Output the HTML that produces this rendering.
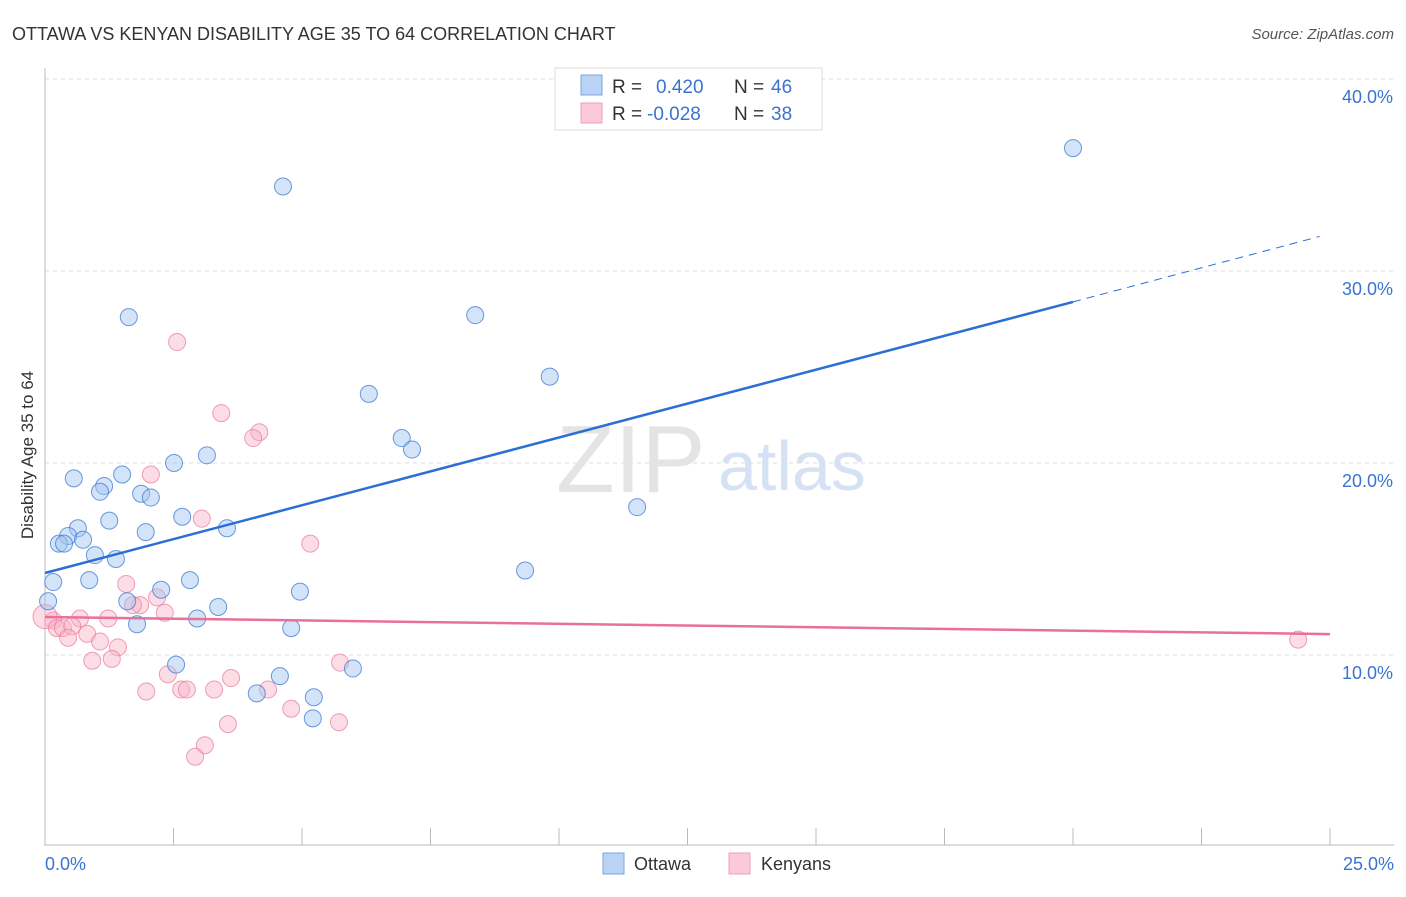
<!DOCTYPE html>
<html><head><meta charset="utf-8"><style>
body{margin:0;background:#fff;font-family:"Liberation Sans",sans-serif;}
svg text{font-family:"Liberation Sans",sans-serif;}
</style></head><body>
<svg id="c" width="1406" height="892" xmlns="http://www.w3.org/2000/svg">
<text x="12" y="40" font-size="18" fill="#333">OTTAWA VS KENYAN DISABILITY AGE 35 TO 64 CORRELATION CHART</text>
<text x="1394" y="39" font-size="15" fill="#555" font-style="italic" text-anchor="end">Source: ZipAtlas.com</text>
<text transform="translate(33,455) rotate(-90)" font-size="17" fill="#333" text-anchor="middle">Disability Age 35 to 64</text>
<g id="grid"></g>
<g id="ticks"></g>
<text x="556" y="492" font-size="96" fill="#e4e4e4" font-family="Liberation Serif">ZIP</text>
<text x="718" y="490" font-size="70" fill="#d6e2f3">atlas</text>
<line x1="45" y1="68" x2="45" y2="846" stroke="#bbb"/>
<line x1="45" y1="845" x2="1394" y2="845" stroke="#bbb"/>
<g id="pts"></g>
<g id="trends"></g>
<text x="45" y="870" font-size="18" fill="#3a73d0">0.0%</text>
<text x="1394" y="870" font-size="18" fill="#3a73d0" text-anchor="end">25.0%</text>
<g>
<rect x="555" y="68" width="267" height="62" fill="#fff" stroke="#ddd"/>
<rect x="581" y="75" width="21" height="20" fill="#b9d3f5" stroke="#7aa6e0"/>
<rect x="581" y="103" width="21" height="20" fill="#fcc9d8" stroke="#eea0b8"/>
<text x="612" y="93" font-size="19" fill="#333">R =</text>
<text x="656" y="93" font-size="19" fill="#3a73d0">0.420</text>
<text x="734" y="93" font-size="19" fill="#333">N =</text>
<text x="771" y="93" font-size="19" fill="#3a73d0">46</text>
<text x="612" y="120" font-size="19" fill="#333">R =</text>
<text x="647" y="120" font-size="19" fill="#3a73d0">-0.028</text>
<text x="734" y="120" font-size="19" fill="#333">N =</text>
<text x="771" y="120" font-size="19" fill="#3a73d0">38</text>
</g>
<g>
<rect x="603" y="853" width="21" height="21" fill="#b9d3f5" stroke="#7aa6e0"/>
<text x="634" y="870" font-size="18" fill="#333">Ottawa</text>
<rect x="729" y="853" width="21" height="21" fill="#fcc9d8" stroke="#eea0b8"/>
<text x="761" y="870" font-size="18" fill="#333">Kenyans</text>
</g>
</svg>
<script>
const yTicks=[10,20,30,40];
const yTickLabels=["10.0%","20.0%","30.0%","40.0%"];
const xTicks=[0,2.5,5,7.5,10,12.5,15,17.5,20,22.5,25];
const ottawaX=[4.63,20.0,1.63,8.37,9.82,6.30,6.94,7.14,3.15,2.51,1.50,0.56,1.15,1.07,1.87,2.06,11.52,1.25,2.67,0.64,1.96,3.54,0.45,0.74,0.27,0.37,0.97,1.38,9.34,0.16,0.86,2.82,2.26,4.96,1.60,0.06,3.37,2.96,1.79,4.79,2.55,5.99,4.57,4.12,5.23,5.21];
const ottawaY=[34.4,36.4,27.6,27.7,24.5,23.6,21.3,20.7,20.4,20.0,19.4,19.2,18.8,18.5,18.4,18.2,17.7,17.0,17.2,16.6,16.4,16.6,16.2,16.0,15.8,15.8,15.2,15.0,14.4,13.8,13.9,13.9,13.4,13.3,12.8,12.8,12.5,11.9,11.6,11.4,9.5,9.3,8.9,8.0,7.8,6.7];
const kenyaX=[2.57,3.43,4.17,4.05,2.06,3.05,5.16,1.58,2.18,1.85,1.71,2.33,1.23,0.68,0.16,0.0,0.23,0.35,0.53,0.82,0.45,1.07,1.42,0.92,1.30,5.74,2.39,3.62,1.97,2.65,2.76,3.29,4.34,4.79,3.56,5.72,3.11,2.92,24.38];
const kenyaY=[26.3,22.6,21.6,21.3,19.4,17.1,15.8,13.7,13.0,12.6,12.6,12.2,11.9,11.9,11.8,12.0,11.4,11.4,11.5,11.1,10.9,10.7,10.4,9.7,9.8,9.6,9.0,8.8,8.1,8.2,8.2,8.2,8.2,7.2,6.4,6.5,5.3,4.7,10.8];
const blueTrend=[14.27,28.39,31.8];
const pinkTrend=[11.98,11.09];
const NS="http://www.w3.org/2000/svg";
const sx=v=>45+v/25*1285, sy=v=>847-v*19.2;
function mk(t,a,p){const e=document.createElementNS(NS,t);for(const k in a)e.setAttribute(k,a[k]);p.appendChild(e);return e;}
const grid=document.getElementById('grid'),ticks=document.getElementById('ticks'),pts=document.getElementById('pts'),tr=document.getElementById('trends');
yTicks.forEach((v,i)=>{
 const l=mk('line',{x1:45,x2:1394,y1:sy(v),y2:sy(v),stroke:'#ddd','stroke-dasharray':'4,4'},grid);
 
 
 const t=mk('text',{x:1393,y:sy(v)+24,'font-size':18,fill:'#3a73d0','text-anchor':'end'},grid);
 t.textContent=yTickLabels[i];
 
 
});
xTicks.forEach(v=>{
 const l=mk('line',{x1:sx(v),x2:sx(v),y1:828,y2:845,stroke:'#bbb'},ticks);
 
 
});
kenyaX.forEach((x,i)=>{
 const c=mk('circle',{cx:sx(x),cy:sy(kenyaY[i]),r:i===15?12:8.5,fill:'rgba(249,180,200,0.45)',stroke:'rgba(232,120,155,0.7)','stroke-width':1},pts);
 
 
});
ottawaX.forEach((x,i)=>{
 const c=mk('circle',{cx:sx(x),cy:sy(ottawaY[i]),r:8.5,fill:'rgba(160,195,240,0.45)',stroke:'rgba(60,120,210,0.75)','stroke-width':1},pts);
 
 
});
let b=mk('line',{x1:sx(0),y1:sy(blueTrend[0]),x2:sx(20),y2:sy(blueTrend[1]),stroke:'#2a6fd6','stroke-width':2.5},tr);


let bd=mk('line',{x1:sx(20),y1:sy(blueTrend[1]),x2:sx(24.8),y2:sy(blueTrend[2]),stroke:'#2a6fd6','stroke-width':1,'stroke-dasharray':'8,6'},tr);


let p=mk('line',{x1:sx(0),y1:sy(pinkTrend[0]),x2:sx(25),y2:sy(pinkTrend[1]),stroke:'#e8709a','stroke-width':2.5},tr);


</script>
</body></html>
